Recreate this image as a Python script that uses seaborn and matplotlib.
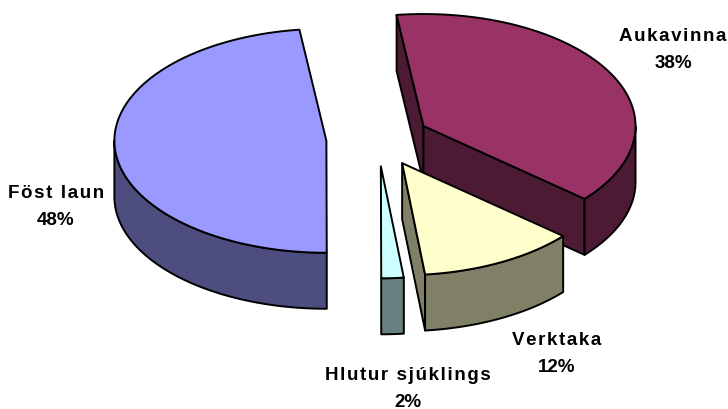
import numpy as np
import matplotlib
matplotlib.use("Agg")
import matplotlib.pyplot as plt
import seaborn as sns

# slices in drawing order round the pie, clockwise from the start angle
labels = ["Aukavinna", "Verktaka", "Hlutur sjúklings", "Föst laun"]
values = [38.3, 12.0, 1.7, 48.0]
top_colors = ["#993366", "#ffffcc", "#ccffff", "#9999ff"]
side_colors = ["#4d1a33", "#808066", "#668080", "#4d4d80"]

# where the text goes, in pixels
label_pos = [(673, 50), (557, 354), (408, 389), (56, 207)]

# pie layout, in pixels
CX, CY = 378, 140
RX, RY = 212, 112
DEPTH = 56
EXPLODE = 0.244
START = -7.3

sns.set_theme(style="white")
plt.rcParams["font.family"] = ["Liberation Sans", "DejaVu Sans"]


def rim(theta):
    """Point of the unit rim, angle in degrees clockwise from the top."""
    t = np.radians(theta)
    return np.sin(t) * RX, -np.cos(t) * RY


def arc(x0, y0, a, b, n=80):
    t = np.radians(np.linspace(a, b, n))
    return x0 + np.sin(t) * RX, y0 - np.cos(t) * RY


fig = plt.figure(figsize=(7.28, 4.10), dpi=100)
ax = fig.add_axes([0, 0, 1, 1])
ax.set_xlim(0, 728)
ax.set_ylim(410, 0)
ax.axis("off")

edges = START + np.cumsum([0] + values) * 3.6
slices = []
for i, v in enumerate(values):
    a, b = edges[i], edges[i + 1]
    mx, my = rim((a + b) / 2)
    slices.append((i, a, b, CX + EXPLODE * mx, CY + EXPLODE * my))

# back to front: big left slice, big right slice, then the two small ones
for i, a, b, x0, y0 in [slices[3], slices[0], slices[2], slices[1]]:
    kw = dict(facecolor=side_colors[i], edgecolor="black", linewidth=1.4, joinstyle="round")

    # flat cut faces, only those turned to the viewer
    for ang, turn in [(a, -90), (b, 90)]:
        if np.cos(np.radians(ang + turn)) < -0.01:
            ex, ey = rim(ang)
            ax.fill([x0, x0 + ex, x0 + ex, x0],
                    [y0, y0 + ey, y0 + ey + DEPTH, y0 + DEPTH], **kw)

    # outer wall, only the front half of the rim shows
    lo, hi = max(a, 90), min(b, 270)
    if lo < hi:
        xs, ys = arc(x0, y0, lo, hi)
        ax.fill(np.r_[xs, xs[::-1]], np.r_[ys, ys[::-1] + DEPTH], **kw)

    # top face
    xs, ys = arc(x0, y0, a, b)
    ax.fill(np.r_[x0, xs], np.r_[y0, ys], facecolor=top_colors[i],
            edgecolor="black", linewidth=1.4, joinstyle="round")

for name, v, (tx, ty) in zip(labels, values, label_pos):
    # the original has wide letter spacing, hair spaces get close to it
    spaced = "\u200a".join(name)
    ax.text(tx, ty, f"{spaced}\n{v:.0f}%", ha="center", va="center", fontsize=13.5,
            fontweight="bold", color="black", linespacing=1.8)

fig.savefig("out.png", dpi=100, facecolor="white")
